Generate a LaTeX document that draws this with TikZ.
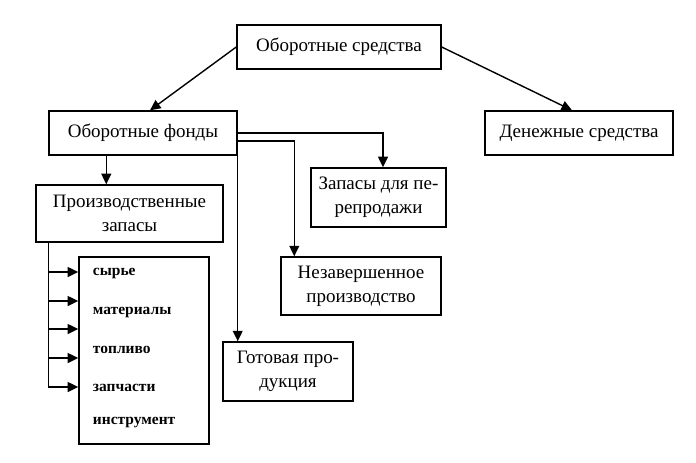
\documentclass[tikz,border=0pt]{standalone}
\usepackage{fontspec}
\setmainfont{Liberation Serif}
\usepackage{tikz}
\usetikzlibrary{arrows.meta, positioning, calc}

\tikzset{
    block/.style={draw, line width=1pt, fill=white, align=center, font=\fontsize{13.5}{17}\selectfont},
    listitem/.style={anchor=west, font=\fontsize{11}{13}\selectfont\bfseries},
    link/.style={line width=1pt, -{Triangle[length=7.5pt, width=7pt]}},
    trunk/.style={line width=1pt}
}

\begin{document}
\begin{tikzpicture}[x=0.025cm, y=-0.025cm]
    \useasboundingbox (0,0) rectangle (696,462);

    % Top level
    \node[block, minimum width=5.1cm, minimum height=1.1cm] (assets) at (339, 47) {Оборотные средства};
    \node[block, minimum width=4.7cm, minimum height=1.1cm] (funds) at (143, 133) {Оборотные фонды};
    \node[block, minimum width=4.7cm, minimum height=1.1cm] (money) at (579, 133) {Денежные средства};

    % Second level
    \node[block, minimum width=4.675cm, minimum height=1.425cm] (prod) at (129.5, 213.5) {Производственные\\запасы};
    \node[block, minimum width=3.375cm, minimum height=1.475cm] (resale) at (378.5, 197.5) {Запасы для пе-\\репродажи};
    \node[block, minimum width=4cm, minimum height=1.45cm] (wip) at (361, 286) {Незавершенное\\производство};
    \node[block, minimum width=3.25cm, minimum height=1.475cm] (goods) at (288, 371.5) {Готовая про-\\дукция};

    % List of production stocks
    \node[draw, line width=1pt, minimum width=3.25cm, minimum height=4.675cm] (list) at (144, 350.5) {};
    \node[listitem] (item1) at (88, 273) {сырье};
    \node[listitem] (item2) at (88, 312) {материалы};
    \node[listitem] (item3) at (88, 350) {топливо};
    \node[listitem] (item4) at (88, 388) {запчасти};
    \node[listitem] (item5) at (88, 423) {инструмент};

    % Connectors
    \draw[link] (assets.west) -- ($(funds.north)+(7,0)$);
    \draw[link] (assets.east) -- ($(money.north)+(-7,0)$);
    \draw[link] ($(funds.south west)+(58,0)$) -- ($(prod.north west)+(71,0)$);
    \draw[link] ($(funds.east)+(0,0)$) -| ($(resale.north)+(4.5,0)$);
    \draw[link] ($(funds.east)+(0,8)$) -| ($(wip.north west)+(14,0)$);
    \draw[link] (funds.south east) -- (funds.south east |- goods.north);

    % Branches into the list
    \coordinate (branch) at ($(prod.south west)+(13,0)$);
    \draw[trunk] (branch) -- (branch |- 0,387);
    \foreach \y in {272, 301, 329, 358, 387}
        \draw[link] (branch |- 0,\y) -- (list.west |- 0,\y);
\end{tikzpicture}
\end{document}
